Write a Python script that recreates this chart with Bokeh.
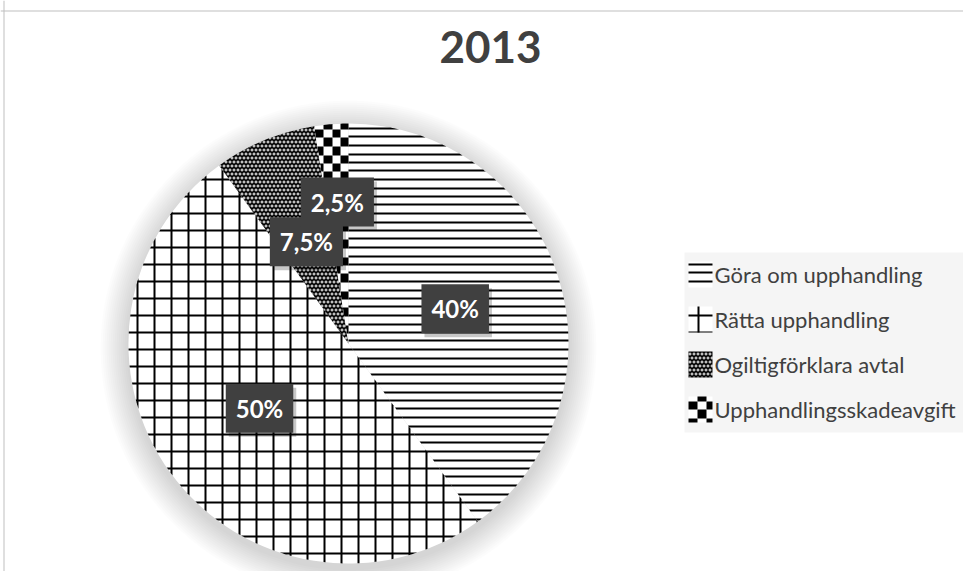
import math
import numpy as np
from bokeh.plotting import figure
from bokeh.models import ColumnDataSource, Range1d, Span, Label
from bokeh.core.properties import value
from bokeh.embed import file_html
from bokeh.resources import INLINE

# ---- data ----
title_text = "2013"
categories = ["Göra om upphandling", "Rätta upphandling",
              "Ogiltigförklara avtal", "Upphandlingsskadeavgift"]
shares = [40.0, 50.0, 7.5, 2.5]
pct_labels = ["40%", "50%", "7,5%", "2,5%"]
pattern_kinds = ["hlines", "grid", "fine", "checker"]

# ---- layout / style constants ----
W, H = 963, 571
CX, CY, R = 348, H - 343, 220
label_radius = [0.51, 0.50, 0.50, 0.645]
FONT = "Lato"
TXT = "#404040"
LEG_X0, LEG_X1, LEG_TOP, LEG_BOT = 684, 963, 252, 432
LEG_ROW0, LEG_STEP = 274, 45
ICON_X0, ICON_W, ICON_H = 688, 24, 26
TEXT_X = 714


# ---- pattern geometry helpers ----
def signed_area(poly):
    s = 0.0
    for i in range(len(poly)):
        x1, y1 = poly[i]
        x2, y2 = poly[(i + 1) % len(poly)]
        s += x1 * y2 - x2 * y1
    return s / 2


def clip(subject, clipper):
    if signed_area(clipper) < 0:
        clipper = clipper[::-1]
    out = list(subject)
    n = len(clipper)
    for i in range(n):
        ax, ay = clipper[i]
        bx, by = clipper[(i + 1) % n]
        if abs(bx - ax) < 1e-9 and abs(by - ay) < 1e-9:
            continue
        inp, out = out, []
        if not inp:
            break

        def inside(p):
            return (bx - ax) * (p[1] - ay) - (by - ay) * (p[0] - ax) >= -1e-9

        def inter(p, q):
            x1, y1 = p
            x2, y2 = q
            den = (x1 - x2) * (ay - by) - (y1 - y2) * (ax - bx)
            if abs(den) < 1e-12:
                return q
            t = ((x1 - ax) * (ay - by) - (y1 - ay) * (ax - bx)) / den
            return (x1 + t * (x2 - x1), y1 + t * (y2 - y1))

        s = inp[-1]
        for e in inp:
            if inside(e):
                if not inside(s):
                    out.append(inter(s, e))
                out.append(e)
            elif inside(s):
                out.append(inter(s, e))
            s = e
    return out


def sector_polygon(cx, cy, r, a0, a1):
    n = max(int(abs(a0 - a1) / math.radians(0.5)), 2)
    ang = np.linspace(a0, a1, n + 1)
    return [(cx, cy)] + [(cx + r * math.cos(a), cy + r * math.sin(a)) for a in ang]


def pattern(kind, bbox):
    """Returns (background colour, foreground colour, list of rects)."""
    x0, y0, x1, y1 = bbox
    rects = []
    if kind == "hlines":
        for k in range(math.floor(y0 / 8.5) - 1, math.ceil(y1 / 8.5) + 1):
            yy = round(k * 8.5)
            rects.append((x0, yy, x1, yy + 2))
        return "white", "black", rects
    if kind == "grid":
        for k in range(math.floor(y0 / 17) - 1, math.ceil(y1 / 17) + 1):
            rects.append((x0, 17 * k, x1, 17 * k + 2))
        for k in range(math.floor(x0 / 17) - 1, math.ceil(x1 / 17) + 1):
            rects.append((17 * k, y0, 17 * k + 2, y1))
        return "white", "black", rects
    if kind == "checker":
        b = lambda k: round(8.5 * k)
        for i in range(math.floor(x0 / 8.5) - 1, math.ceil(x1 / 8.5) + 1):
            for j in range(math.floor(y0 / 8.5) - 1, math.ceil(y1 / 8.5) + 1):
                if (i + j) % 2 == 0:
                    rects.append((b(i), b(j), b(i + 1), b(j + 1)))
        return "white", "black", rects
    # fine dotted pattern: small white crosses on black, staggered rows
    for i in range(math.floor(x0 / 4) - 1, math.ceil(x1 / 4) + 1):
        for j in range(math.floor(y0 / 4) - 1, math.ceil(y1 / 4) + 1):
            ox = 4 * i + 2 * (j % 2)
            oy = 4 * j
            rects.append((ox + 1, oy, ox + 2, oy + 3))
            rects.append((ox, oy + 1, ox + 3, oy + 2))
    return "black", "white", rects


def fill_pattern(kind, poly, store):
    xs = [p[0] for p in poly]
    ys = [p[1] for p in poly]
    bg, fg, rects = pattern(kind, (min(xs), min(ys), max(xs), max(ys)))
    for (a, b, c, d) in rects:
        if c < min(xs) or a > max(xs) or d < min(ys) or b > max(ys):
            continue
        cp = clip([(a, b), (c, b), (c, d), (a, d)], poly)
        if len(cp) >= 3 and abs(signed_area(cp)) > 0.05:
            store[fg][0].append([p[0] for p in cp])
            store[fg][1].append([p[1] for p in cp])
    return bg


# ---- pie geometry from the data ----
vals = np.array(shares, dtype=float)
frac = vals / vals.sum()
cum = np.cumsum(frac)
start = np.pi / 2 - 2 * np.pi * (cum - frac)
end = np.pi / 2 - 2 * np.pi * cum
mid = np.pi / 2 - 2 * np.pi * (cum - frac / 2)
lr = np.array(label_radius) * R

fg_store = {"black": ([], []), "white": ([], [])}
bg_colors = []
for i, kind in enumerate(pattern_kinds):
    poly = sector_polygon(CX, CY, R, start[i], end[i])
    bg_colors.append(fill_pattern(kind, poly, fg_store))

# legend icons
leg_rows = [H - (LEG_ROW0 + i * LEG_STEP) for i in range(len(categories))]
icon_bg = []
for i, kind in enumerate(pattern_kinds):
    yc = leg_rows[i]
    box = [(ICON_X0, yc - ICON_H / 2), (ICON_X0 + ICON_W, yc - ICON_H / 2),
           (ICON_X0 + ICON_W, yc + ICON_H / 2), (ICON_X0, yc + ICON_H / 2)]
    icon_bg.append(fill_pattern(kind, box, fg_store))

src = ColumnDataSource(dict(
    x=[CX] * len(shares), y=[CY] * len(shares),
    start=start, end=end, name=categories, bg=bg_colors,
))
lab_src = ColumnDataSource(dict(
    x=CX + lr * np.cos(mid), y=CY + lr * np.sin(mid), text=pct_labels,
))
leg_src = ColumnDataSource(dict(
    y=leg_rows, text=categories, bg=icon_bg,
    left=[ICON_X0] * len(categories), right=[ICON_X0 + ICON_W] * len(categories),
    top=[v + ICON_H / 2 for v in leg_rows], bottom=[v - ICON_H / 2 for v in leg_rows],
    tx=[TEXT_X] * len(categories),
))

p = figure(width=W, height=H, x_range=Range1d(0, W), y_range=Range1d(0, H),
           output_backend="svg", toolbar_location=None, min_border=0,
           background_fill_color="white", border_fill_color="white")
p.axis.visible = False
p.grid.visible = False
p.outline_line_color = None

# chart border (top/left)
p.add_layout(Span(location=H - 10.5, dimension="width", line_color="#bfbfbf", line_width=1))
p.add_layout(Span(location=3.5, dimension="height", line_color="#bfbfbf", line_width=1))

# soft shadow around the pie
for k in range(2, 30, 2):
    p.circle(x=CX, y=CY - 5, radius=R + k, fill_color="black", fill_alpha=0.010,
             line_color=None)

# slices (background) + pattern marks
p.wedge(x="x", y="y", radius=R, start_angle="start", end_angle="end",
        direction="clock", source=src, fill_color="bg", line_color=None)

# legend background and icon backgrounds
p.quad(left=LEG_X0, right=LEG_X1, top=H - LEG_TOP, bottom=H - LEG_BOT,
       fill_color="#f5f5f5", line_color=None)
p.quad(left="left", right="right", top="top", bottom="bottom", source=leg_src,
       fill_color="bg", line_color=None)

for col in ("black", "white"):
    xs, ys = fg_store[col]
    if xs:
        p.patches(xs=xs, ys=ys, fill_color=col, line_color=None)

p.text(x="tx", y="y", text="text", source=leg_src, text_color=TXT,
       text_font=value(FONT), text_font_size="22px",
       text_align="left", text_baseline="middle")

# label shadows and boxes
p.text(x="x", y="y", text="text", source=lab_src, text_alpha=0,
       text_font=value(FONT), text_font_style="bold", text_font_size="24px",
       text_align="center", text_baseline="middle", x_offset=3, y_offset=4,
       background_fill_color="black", background_fill_alpha=0.22, padding=10)
p.text(x="x", y="y", text="text", source=lab_src, text_color="white",
       text_font=value(FONT), text_font_style="bold", text_font_size="24px",
       text_align="center", text_baseline="middle",
       background_fill_color="#404040", padding=10)

p.add_layout(Label(x=490, y=H - 46, text=title_text, text_font=FONT,
                   text_font_style="bold", text_font_size="44px", text_color=TXT,
                   text_align="center", text_baseline="middle"))

open("out.html", "w").write(file_html(p, INLINE))
